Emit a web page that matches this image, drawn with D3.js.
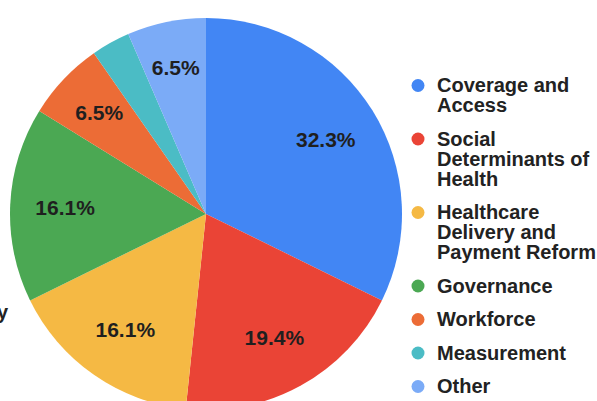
<!DOCTYPE html>
<html>
<head>
<meta charset="utf-8">
<script src="https://cdn.jsdelivr.net/npm/d3@7"></script>
<style>
  body { margin: 0; background: #fff; }
  svg { display: block; font-family: "Liberation Sans", Arial, sans-serif; }
</style>
</head>
<body>
<svg id="chart"></svg>
<script>
const categories = ["Coverage and Access", "Social Determinants of Health", "Healthcare Delivery and Payment Reform",
  "Governance", "Workforce", "Measurement", "Other"];
const shares = [32.3, 19.4, 16.1, 16.1, 6.5, 3.2, 6.5];
const colors = ["#4286f4", "#ea4436", "#f5b944", "#4ba853", "#ec6c36", "#4bbcc5", "#7babf7"];

const data = categories.map((c, i) => ({ name: c, value: shares[i], color: colors[i] }));

const width = 597, height = 401;
const cx = 206, cy = 214, radius = 196;

const svg = d3.select("#chart")
  .attr("width", width)
  .attr("height", height);

const pie = d3.pie().sort(null).value(d => d.value);
const arc = d3.arc().innerRadius(0).outerRadius(radius);
const arcs = pie(data);

const g = svg.append("g").attr("transform", `translate(${cx},${cy})`);

g.selectAll("path")
  .data(arcs)
  .enter()
  .append("path")
  .attr("d", arc)
  .attr("fill", d => d.data.color);

// labels: push outward until the text box sits inside its slice
const labelSize = 21;
const labels = g.selectAll("text.lbl")
  .data(arcs)
  .enter()
  .append("text")
  .attr("class", "lbl")
  .attr("text-anchor", "middle")
  .attr("dy", "0.35em")
  .attr("font-size", labelSize)
  .attr("font-weight", "bold")
  .attr("fill", "#1f1f1f")
  .text(d => d.data.value.toFixed(1) + "%");

labels.each(function(d) {
  const w = this.getComputedTextLength();
  const h = labelSize;
  const mid = (d.startAngle + d.endAngle) / 2;
  const span = d.endAngle - d.startAngle;
  let placed = null;
  for (let rr = radius * 0.72; rr < radius - 8; rr += 1) {
    const x = rr * Math.sin(mid), y = -rr * Math.cos(mid);
    const corners = [[x - w / 2, y - h / 2], [x + w / 2, y - h / 2], [x - w / 2, y + h / 2], [x + w / 2, y + h / 2]];
    const ok = corners.every(([px, py]) => {
      const dist = Math.hypot(px, py);
      if (dist > radius - 4) return false;
      let a = Math.atan2(px, -py);
      a = ((a - d.startAngle) % (2 * Math.PI) + 2 * Math.PI) % (2 * Math.PI);
      const pad = 4 / dist;
      return a >= pad && a <= span - pad;
    });
    if (ok) { placed = [x, y]; break; }
  }
  if (placed) d3.select(this).attr("x", placed[0]).attr("y", placed[1]);
  else d3.select(this).remove();
});

// legend
const legendX = 418, textX = 437, lineH = 20, itemGap = 13.5, legendSize = 20, wrapWidth = 170;
const legend = svg.append("g");
let baseY = 92;

data.forEach(d => {
  const item = legend.append("g");
  item.append("circle")
    .attr("cx", legendX)
    .attr("cy", baseY - 6.5)
    .attr("r", 6.5)
    .attr("fill", d.color);

  const txt = item.append("text")
    .attr("font-size", legendSize)
    .attr("font-weight", "bold")
    .attr("fill", "#222");

  const words = d.name.split(" ");
  let line = [];
  let lineNo = 0;
  let tspan = txt.append("tspan").attr("x", textX).attr("y", baseY);
  words.forEach(word => {
    line.push(word);
    tspan.text(line.join(" "));
    if (tspan.node().getComputedTextLength() > wrapWidth && line.length > 1) {
      line.pop();
      tspan.text(line.join(" "));
      line = [word];
      lineNo++;
      tspan = txt.append("tspan").attr("x", textX).attr("y", baseY + lineNo * lineH).text(word);
    }
  });
  baseY += (lineNo + 1) * lineH + itemGap;
});

// clipped fragment of text at the left border
svg.append("text")
  .attr("x", -3)
  .attr("y", 319)
  .attr("font-size", 20)
  .attr("font-weight", "bold")
  .attr("fill", "#222")
  .text("y");
</script>
</body>
</html>
